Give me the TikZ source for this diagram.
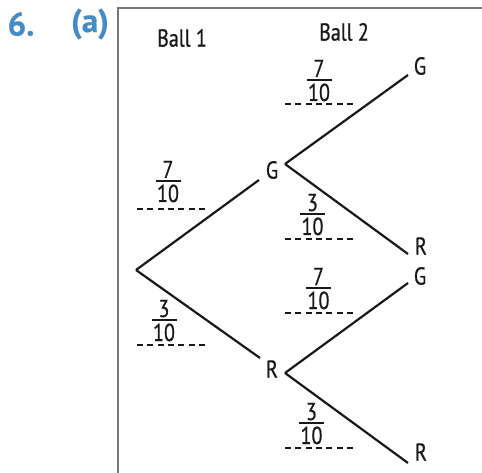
\documentclass[tikz,border=0pt]{standalone}
\usepackage{fontspec}
\setmainfont[FakeStretch=0.82,FakeBold=0.7]{PT Sans}
\newfontfamily\headfont[FakeBold=0.6]{PT Sans}
\definecolor{headblue}{RGB}{70,140,196}
\definecolor{framegray}{RGB}{120,120,120}
\tikzset{
  txt/.style={inner sep=0pt, font=\fontsize{24.5}{28}\selectfont, text=black!90},
  head/.style={inner sep=0pt, font=\headfont\bfseries\fontsize{33}{37}\selectfont, text=headblue},
  branch/.style={line width=2.2pt, black!90},
  fracbar/.style={line width=1.3pt, black!90},
  dashln/.style={line width=2pt, black!90, dash pattern=on 6pt off 4.33pt},
  framel/.style={line width=1.4pt, framegray}
}
\newcommand\myfr[7]{%
  \node[txt,anchor=base] (#1n) at (#2,#3-3) {#4};
  \node[txt,anchor=base] (#1d) at (#2,#3+21) {#5};
  \draw[fracbar] (#2-12.5,#3) -- (#2+12.5,#3);
  \draw[dashln] (#7,#6) -- (#7+68,#6);
}
\begin{document}
\begin{tikzpicture}[x=1pt,y=-1pt]
\useasboundingbox (0,0) rectangle (482,473);
% frame
\draw[framel] (118,474) -- (118,8) -- (483,8);
% heading
\node[head] (num) at (21,24) {6.};
\node[head] (part) at (90,24) {(a)};
\node[txt] (b1) at (182,38) {Ball 1};
\node[txt] (b2) at (344,32) {Ball 2};
% tree vertices
\coordinate (root) at (136,270);
\coordinate (gin) at (259,180);
\coordinate (gout) at (285,164);
\coordinate (rin) at (260,358);
\coordinate (rout) at (285,373);
\coordinate (ggin) at (408,75);
\coordinate (grin) at (408,254);
\coordinate (rgin) at (408,283);
\coordinate (rrin) at (408,463);
% labels
\node[txt] (G1) at (272,170) {G};
\node[txt] (R1) at (272,369) {R};
\node[txt] (GG) at (420,66) {G};
\node[txt] (GR) at (421,246) {R};
\node[txt] (RG) at (420,276) {G};
\node[txt] (RR) at (421,452) {R};
% branches
\draw[branch] (root) -- (gin);
\draw[branch] (root) -- (rin);
\draw[branch] (gout) -- (ggin);
\draw[branch] (gout) -- (grin);
\draw[branch] (rout) -- (rgin);
\draw[branch] (rout) -- (rrin);
% fractions
\myfr{fa}{168}{181}{7}{10}{209}{137}
\myfr{fb}{164}{320}{3}{10}{345}{137}
\myfr{fc}{319}{80}{7}{10}{104}{285}
\myfr{fd}{312.5}{214}{3}{10}{239}{285}
\myfr{fe}{318.5}{288}{7}{10}{313}{285}
\myfr{ff}{311.5}{423}{3}{10}{448}{285}
\end{tikzpicture}
\end{document}
